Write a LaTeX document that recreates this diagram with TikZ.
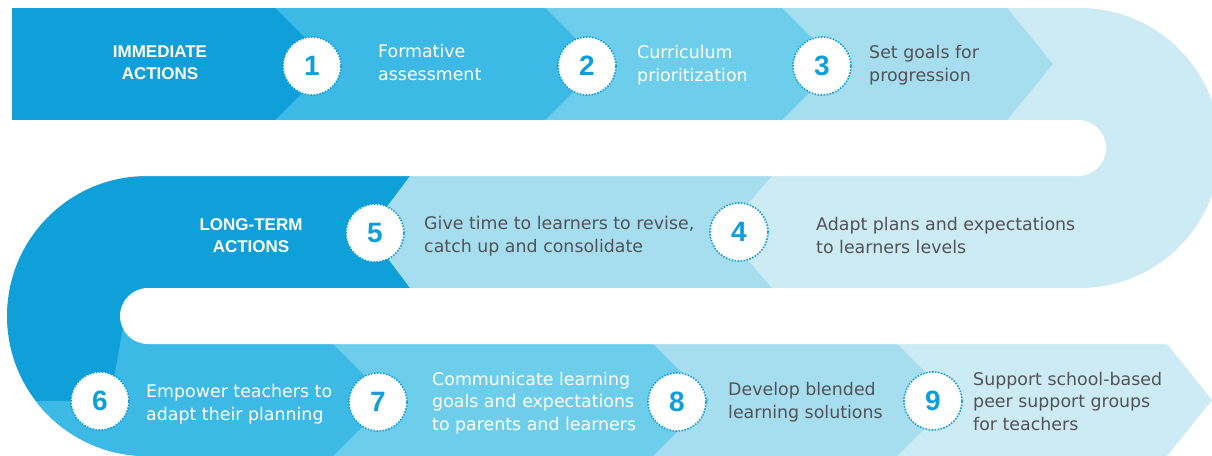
\documentclass[tikz,border=0pt]{standalone}
\usepackage{fontspec}
\setmainfont{DejaVu Sans}
\newfontfamily\lbfont{Liberation Sans}
\definecolor{czero}{HTML}{0F9FD9}
\definecolor{cone}{HTML}{3DB9E5}
\definecolor{ctwo}{HTML}{6DCEEC}
\definecolor{cthree}{HTML}{A6DEF0}
\definecolor{cfour}{HTML}{CDEBF5}
\definecolor{cblue}{HTML}{0E9FDA}
\definecolor{cgray}{HTML}{525356}
\tikzset{
  numc/.style={circle, fill=white, draw=cblue, line width=1.6pt,
    dash pattern=on 1.6pt off 1.4pt, minimum size=58pt, inner sep=0pt,
    font=\lbfont\bfseries\fontsize{28}{28}\selectfont, text=cblue},
  steptxt/.style={anchor=base west, align=left, inner sep=0pt,
    font=\fontsize{17.4}{22.5}\selectfont},
  wtxt/.style={steptxt, text=white},
  gtxt/.style={steptxt, text=cgray},
  lbl/.style={align=center, inner sep=0pt, anchor=base, text=white,
    font=\lbfont\bfseries\fontsize{17}{22}\selectfont},
}
\begin{document}
\begin{tikzpicture}[x=1pt,y=-1pt]
\useasboundingbox (0,0) rectangle (1212,455);
% left U (dark)
\fill[czero] (410,176) -- (147,176) arc[start angle=-90, end angle=-270, radius=140] -- (410,456) -- cycle;
% bottom band chevrons
\fill[cfour] (880,344) -- (1167,344) -- (1212,400) -- (1167,456) -- (880,456) -- cycle;
\fill[cthree] (640,344) -- (897,344) -- (953,400) -- (897,456) -- (640,456) -- cycle;
\fill[ctwo] (320,344) -- (653,344) -- (709,400) -- (653,456) -- (320,456) -- cycle;
\begin{scope}
  \clip (147,176) arc[start angle=-90, end angle=-270, radius=140] -- (1300,456) -- (1300,176) -- cycle;
  \fill[cone] (125,316) -- (333,316) -- (333,344) -- (389,400) -- (333,456) -- (0,456) -- (0,401) -- (110,401) -- cycle;
\end{scope}
% middle band
\fill[cthree] (800,176) -- (410,176) -- (368,232) -- (410,288) -- (800,288) -- cycle;
\fill[cfour] (1000,8) -- (1080,8) arc[start angle=-90, end angle=90, radius=140] -- (772,288) -- (724,232) -- (772,176) -- (1000,176) -- cycle;
% top band chevrons
\fill[cthree] (782,8) -- (1007,8) -- (1053,64) -- (1007,120) -- (782,120) -- cycle;
\fill[ctwo] (545,8) -- (782,8) -- (838,64) -- (782,120) -- (545,120) -- cycle;
\fill[cone] (275,8) -- (545,8) -- (601,64) -- (545,120) -- (275,120) -- cycle;
\fill[czero] (12,8) -- (275,8) -- (331,64) -- (275,120) -- (12,120) -- cycle;
% white gaps
\fill[white, rounded corners=28pt] (-40,120) rectangle (1106,176);
\fill[white, rounded corners=28pt] (120,288) rectangle (1300,344);
% number circles
\node[numc] (n1) at (312,66) {1};
\node[numc] (n2) at (587,66) {2};
\node[numc] (n3) at (822,66) {3};
\node[numc] (n4) at (739,232) {4};
\node[numc] (n5) at (375,233) {5};
\node[numc] (n6) at (100,401) {6};
\node[numc] (n7) at (378,402) {7};
\node[numc] (n8) at (677,402) {8};
\node[numc] (n9) at (933,401) {9};
% labels (anchor = baseline of last line)
\node[lbl] (imm) at (160,79) {IMMEDIATE\\ACTIONS};
\node[lbl] (lt) at (251,252) {LONG-TERM\\ACTIONS};
% step texts (anchor = baseline of last line)
\node[wtxt] (t1) at (378,80) {Formative\\assessment};
\node[wtxt] (t2) at (637,81) {Curriculum\\prioritization};
\node[gtxt] (t3) at (869,81) {Set goals for\\progression};
\node[gtxt] (t5) at (424,252) {Give time to learners to revise,\\catch up and consolidate};
\node[gtxt] (t4) at (816,253) {Adapt plans and expectations\\to learners levels};
\node[wtxt] (t6) at (146,420) {Empower teachers to\\adapt their planning};
\node[wtxt] (t7) at (432,430) {Communicate learning\\goals and expectations\\to parents and learners};
\node[gtxt] (t8) at (728,418) {Develop blended\\learning solutions};
\node[gtxt] (t9) at (973,430) {Support school-based\\peer support groups\\for teachers};
\end{tikzpicture}
\end{document}
